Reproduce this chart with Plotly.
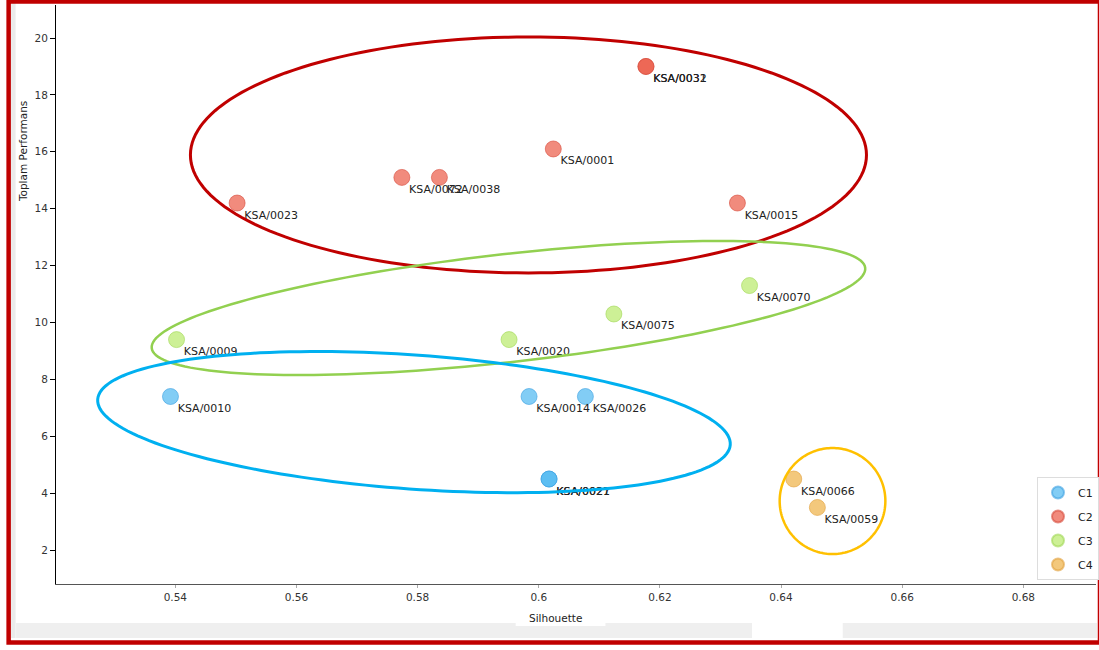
import numpy as np
import plotly.graph_objects as go

# ---------------- data ----------------
clusters = ["C1", "C2", "C3", "C4"]
c1_names = ["KSA/0010", "KSA/0014", "KSA/0026", "KSA/0021", "KSA/0027"]
c1_x = [0.5392, 0.5984, 0.6077, 0.6017, 0.6017]
c1_y = [7.4, 7.4, 7.4, 4.5, 4.5]

c2_names = ["KSA/0023", "KSA/0072", "KSA/0038", "KSA/0001", "KSA/0015", "KSA/0031", "KSA/0032"]
c2_x = [0.5502, 0.5774, 0.5836, 0.6024, 0.6328, 0.6177, 0.6177]
c2_y = [14.2, 15.1, 15.1, 16.1, 14.2, 19.0, 19.0]

c3_names = ["KSA/0009", "KSA/0020", "KSA/0075", "KSA/0070"]
c3_x = [0.5402, 0.5951, 0.6124, 0.6348]
c3_y = [9.4, 9.4, 10.3, 11.3]

c4_names = ["KSA/0066", "KSA/0059"]
c4_x = [0.6421, 0.6460]
c4_y = [4.5, 3.5]

x_ticks = [0.54, 0.56, 0.58, 0.60, 0.62, 0.64, 0.66, 0.68]
x_tick_text = ["0.54", "0.56", "0.58", "0.6", "0.62", "0.64", "0.66", "0.68"]
y_ticks = [2, 4, 6, 8, 10, 12, 14, 16, 18, 20]

# ---------------- styling / layout constants ----------------
W, H = 1099, 650
ML, MR, MT, MB = 56, 0, 5, 66
PW, PH = W - ML - MR, H - MT - MB
X_RANGE = [0.5203, 0.692]
Y_RANGE = [0.81, 21.16]
KX = PW / (X_RANGE[1] - X_RANGE[0])
KY = PH / (Y_RANGE[1] - Y_RANGE[0])

fill = {
    "C1": "rgba(77,184,241,0.7)",
    "C2": "rgba(235,90,70,0.7)",
    "C3": "rgba(184,234,105,0.7)",
    "C4": "rgba(238,176,69,0.7)",
}
edge = {
    "C1": "rgba(60,160,225,0.6)",
    "C2": "rgba(215,75,60,0.6)",
    "C3": "rgba(160,215,85,0.6)",
    "C4": "rgba(225,160,60,0.6)",
}

# ellipse outlines: center (data), semi-axes (px), rotation (deg), colour, width
ellipses = [
    dict(cx=0.5983, cy=15.89, rx=339, ry=118, ang=0.0, color="#c00000", w=3),
    dict(cx=0.5950, cy=10.51, rx=360, ry=54, ang=6.4, color="#92d050", w=2.5),
    dict(cx=0.5794, cy=6.50, rx=318, ry=67, ang=-4.1, color="#00b0f0", w=3),
    dict(cx=0.6485, cy=3.727, rx=53, ry=53, ang=0.0, color="#ffc000", w=2.5),
]

FONT = "DejaVu Sans"

fig = go.Figure()

series = [
    ("C1", c1_names, c1_x, c1_y),
    ("C2", c2_names, c2_x, c2_y),
    ("C3", c3_names, c3_x, c3_y),
    ("C4", c4_names, c4_x, c4_y),
]

for name, names, xs, ys in series:
    fig.add_trace(go.Scatter(
        x=xs, y=ys, mode="markers", name=name, legendgroup=name,
        marker=dict(size=16, color=fill[name], line=dict(color=edge[name], width=1)),
        hoverinfo="skip",
    ))
    fig.add_trace(go.Scatter(
        x=xs, y=ys, mode="markers+text", text=names, textposition="bottom right",
        marker=dict(size=10, color="rgba(0,0,0,0)"),
        textfont=dict(family=FONT, size=11, color="#222222"),
        showlegend=False, hoverinfo="skip",
    ))

shapes = []
t = np.linspace(0, 2 * np.pi, 181)
for e in ellipses:
    th = np.deg2rad(e["ang"])
    dx = e["rx"] * np.cos(t) * np.cos(th) - e["ry"] * np.sin(t) * np.sin(th)
    dy = e["rx"] * np.cos(t) * np.sin(th) + e["ry"] * np.sin(t) * np.cos(th)
    xs = e["cx"] + dx / KX
    ys = e["cy"] + dy / KY
    path = "M " + " L ".join(f"{a:.6f},{b:.6f}" for a, b in zip(xs, ys)) + " Z"
    shapes.append(dict(type="path", xref="x", yref="y", path=path,
                       line=dict(color=e["color"], width=e["w"]), layer="above"))


def px(x):
    return (x - ML) / PW


def py(y):
    return (H - MB - y) / PH


# frame decorations (outside plot area)
shapes += [
    dict(type="rect", xref="paper", yref="paper", x0=px(16), x1=px(1100), y0=py(638), y1=py(623),
         fillcolor="#efefef", line=dict(width=0), layer="below"),
    dict(type="rect", xref="paper", yref="paper", x0=px(11), x1=px(15.5), y0=py(638), y1=py(3),
         fillcolor="#ebebeb", line=dict(width=0), layer="below"),
    dict(type="rect", xref="paper", yref="paper", x0=px(754), x1=px(845), y0=py(640), y1=py(623),
         fillcolor="white", line=dict(width=0), layer="below"),
    dict(type="rect", xref="paper", yref="paper", x0=px(517), x1=px(607), y0=py(626), y1=py(612),
         fillcolor="white", line=dict(width=0), layer="below"),
    dict(type="rect", xref="paper", yref="paper", x0=px(8.5), x1=px(1103), y0=py(642.5), y1=py(1.5),
         fillcolor="rgba(0,0,0,0)", line=dict(color="#c00000", width=4.5), layer="above"),
]

annotations = [
    dict(text="Silhouette", xref="paper", yref="paper", x=px(557), y=py(618),
         xanchor="center", yanchor="middle",
         showarrow=False, font=dict(family=FONT, size=10.5, color="#222222")),
    dict(text="Toplam Performans", xref="paper", yref="paper", x=px(23), y=py(152),
         xanchor="center", yanchor="middle",
         textangle=-90, showarrow=False, font=dict(family=FONT, size=10.5, color="#222222")),
]

fig.update_layout(
    width=W, height=H, autosize=False,
    margin=dict(l=ML, r=MR, t=MT, b=MB, pad=0),
    paper_bgcolor="white", plot_bgcolor="white",
    shapes=shapes, annotations=annotations,
    showlegend=True,
    legend=dict(
        x=px(1040), y=py(477), xanchor="left", yanchor="top",
        bgcolor="white", bordercolor="#dddddd", borderwidth=1,
        font=dict(family=FONT, size=11, color="#222222"),
        itemsizing="constant", traceorder="grouped", tracegroupgap=5,
        itemwidth=30,
    ),
    xaxis=dict(
        range=X_RANGE, tickvals=x_ticks, ticktext=x_tick_text,
        showgrid=False, zeroline=False, showline=True, linecolor="#555555", linewidth=1,
        ticks="outside", ticklen=3, tickcolor="#aaaaaa",
        tickfont=dict(family=FONT, size=10.5, color="#333333"),
    ),
    yaxis=dict(
        range=Y_RANGE, tickvals=y_ticks,
        showgrid=False, zeroline=False, showline=True, linecolor="#000000", linewidth=1,
        ticks="outside", ticklen=5, tickcolor="#000000",
        tickfont=dict(family=FONT, size=10.5, color="#333333"),
    ),
)

fig.write_html(
    "out.html",
    config={"responsive": False, "displayModeBar": False},
    post_script="document.body.style.margin='0';document.body.style.overflow='hidden';",
)
